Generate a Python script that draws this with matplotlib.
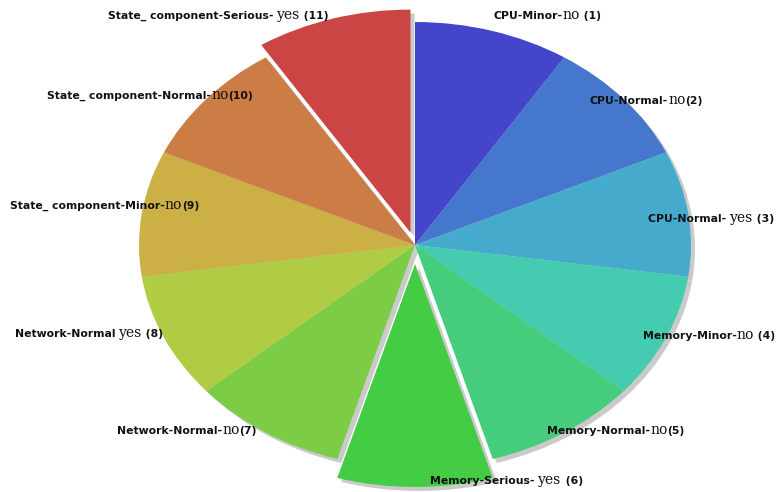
import matplotlib
matplotlib.use("Agg")
import matplotlib.pyplot as plt
from matplotlib.offsetbox import TextArea, HPacker, AnnotationBbox

# Eleven fault categories, one share each, listed clockwise from the top
prefixes = ["CPU-Minor-", "CPU-Normal-", "CPU-Normal- ", "Memory-Minor-", "Memory-Normal-",
            "Memory-Serious- ", "Network-Normal-", "Network-Normal ", "State_ component-Minor-",
            "State_ component-Normal-", "State_ component-Serious- "]
flags = ["no", "no", "yes", "no", "no", "yes", "no", "yes", "no", "no", "yes"]
suffixes = [" (1)", "(2)", " (3)", " (4)", "(5)", " (6)", "(7)", " (8)", "(9)", "(10)", " (11)"]
shares = [1, 1, 1, 1, 1, 1, 1, 1, 1, 1, 1]
explode = [0, 0, 0, 0, 0, 0.085, 0, 0, 0, 0, 0.058]
colors = ["#4545cc", "#4577cc", "#45aacc", "#45ccb0", "#45cc7c", "#45cc45",
          "#7ccc45", "#b0cc45", "#ccb045", "#cc7c45", "#cc4545"]

# label anchors (left edge, vertical centre) in figure pixels measured from the top
label_pos = [(493, 15), (590, 100), (648, 218), (643, 335), (547, 430), (430, 480),
             (117, 430), (15, 333), (10, 205), (47, 95), (108, 15)]

W, H = 776, 492
cx, cy, rx, ry = 415, 245, 276, 223

fig = plt.figure(figsize=(W / 100, H / 100), dpi=100)
ax = fig.add_axes([0, 0, 1, 1])

# soft drop shadow under every wedge
ax.pie(shares, explode=explode, colors=["#cacaca"] * len(shares), startangle=90,
       counterclock=False, center=(4 / rx, -4 / ry),
       wedgeprops=dict(linewidth=0))
ax.pie(shares, explode=explode, colors=colors, startangle=90, counterclock=False,
       wedgeprops=dict(linewidth=0))

ax.set_aspect("auto")
ax.set_xlim(-cx / rx, (W - cx) / rx)
ax.set_ylim(-(H - cy) / ry, cy / ry)
ax.axis("off")

sans = dict(family="DejaVu Sans", weight="bold", size=7.8, color="#111111")
serif = dict(family="DejaVu Serif", size=10, color="#111111")

for pre, flag, suf, (px, py) in zip(prefixes, flags, suffixes, label_pos):
    parts = [TextArea(pre, textprops=sans),
             TextArea(flag, textprops=serif),
             TextArea(suf, textprops=sans)]
    box = HPacker(children=parts, align="baseline", pad=0, sep=0)
    ab = AnnotationBbox(box, (px, H - py), xycoords="figure pixels",
                        box_alignment=(0, 0.5), frameon=False, pad=0)
    ax.add_artist(ab)

fig.savefig("out.png", dpi=100, facecolor="white")
